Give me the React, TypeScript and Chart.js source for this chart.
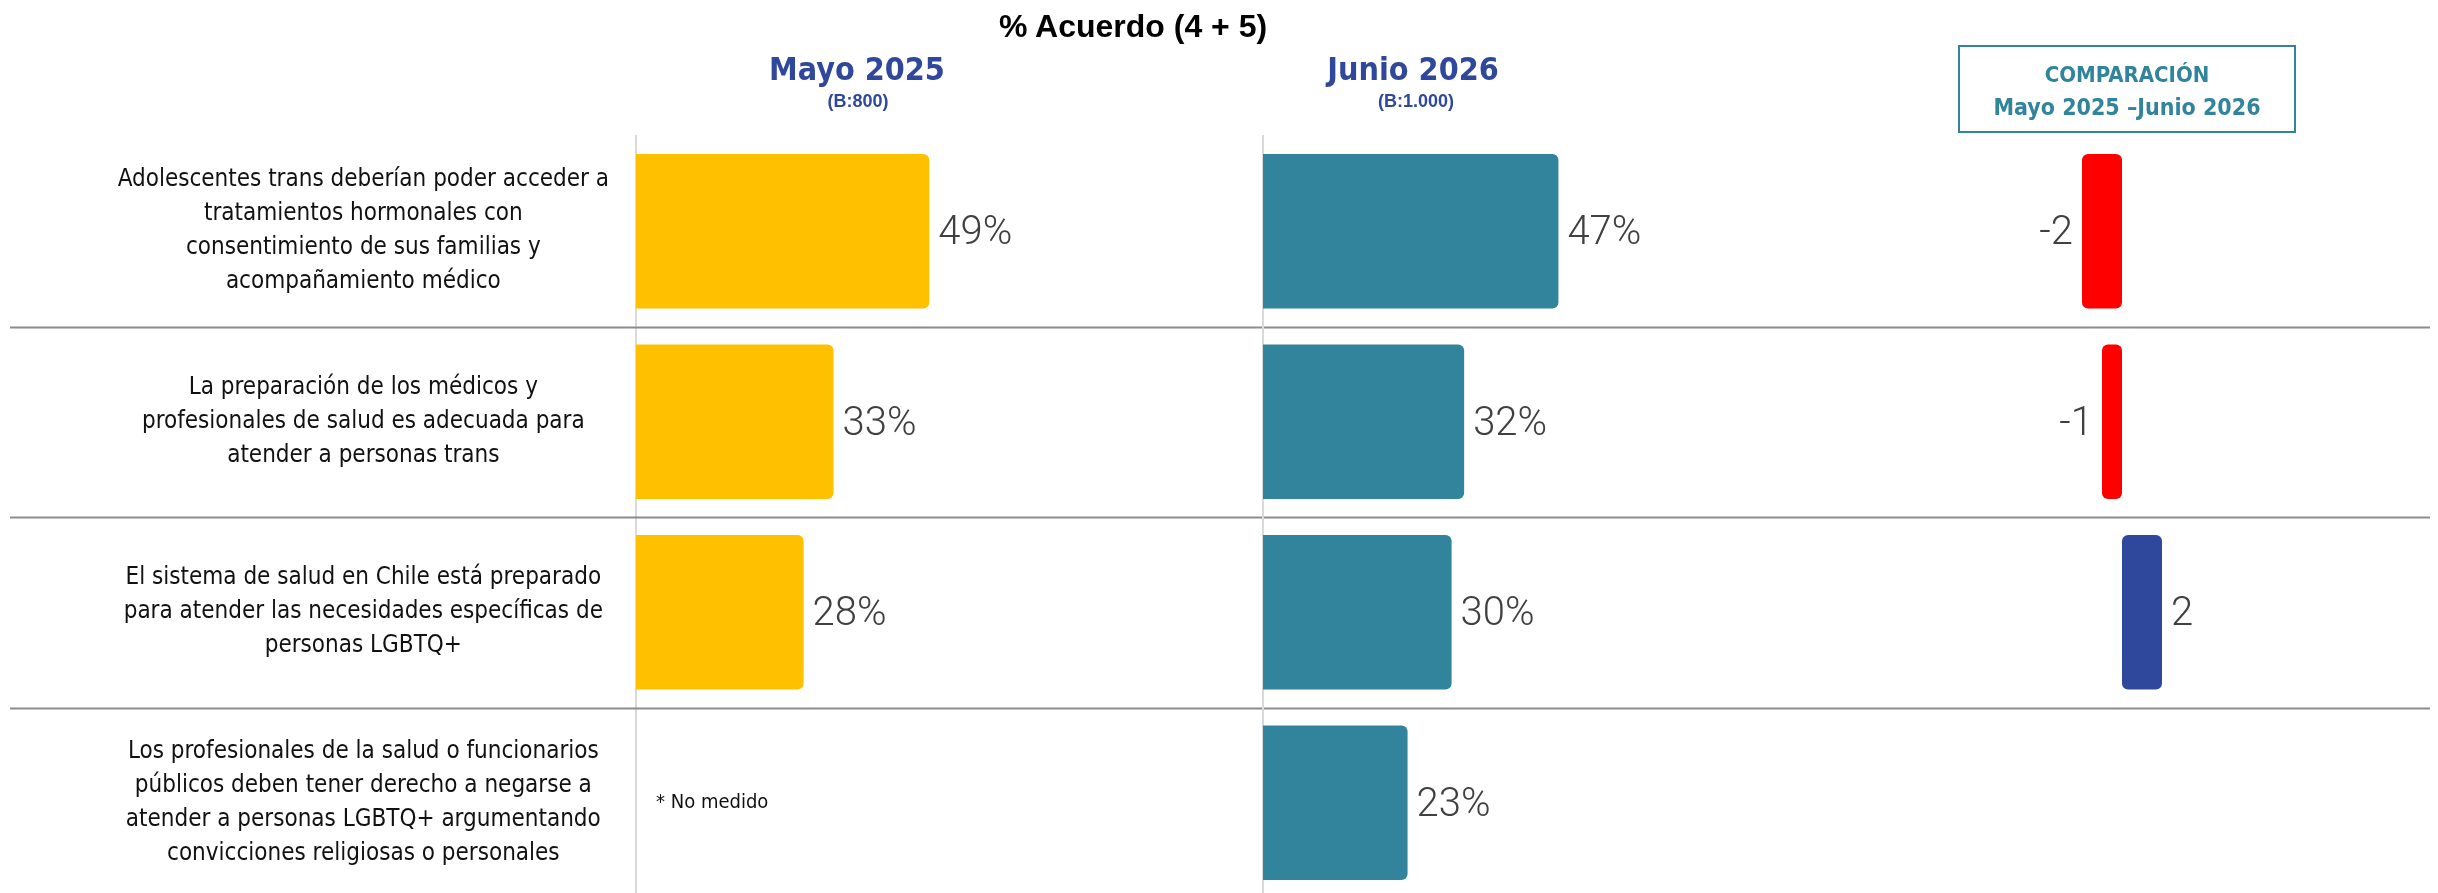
import React, { useEffect, useRef } from "react";
import { Chart, registerables } from "chart.js";

Chart.register(...registerables);

// ---------- data ----------
const categories: string[][] = [
  ["Adolescentes trans deberían poder acceder a", "tratamientos hormonales con", "consentimiento de sus familias y", "acompañamiento médico"],
  ["La preparación de los médicos y", "profesionales de salud es adecuada para", "atender a personas trans"],
  ["El sistema de salud en Chile está preparado", "para atender las necesidades específicas de", "personas LGBTQ+"],
  ["Los profesionales de la salud o funcionarios", "públicos deben tener derecho a negarse a", "atender a personas LGBTQ+ argumentando", "convicciones religiosas o personales"],
];
const mayo2025: (number | null)[] = [49, 33, 28, null];
const junio2026: (number | null)[] = [47, 32, 30, 23];
const comparacion: (number | null)[] = [-2, -1, 2, null];

const chartTitle = "% Acuerdo (4 + 5)";
const periodA = "Mayo 2025";
const baseA = "(B:800)";
const periodB = "Junio 2026";
const baseB = "(B:1.000)";
const compareTitle = "COMPARACIÓN";
const compareSub = "Mayo 2025 –Junio 2026";
const missingText = "* No medido";

// ---------- style ----------
const W = 2438;
const H = 900;
const NARROW = "'DejaVu Sans Condensed', 'Liberation Sans Narrow', sans-serif";
const SANS = "'Liberation Sans', Arial, sans-serif";
const YELLOW = "#FFC000";
const TEAL = "#31849B";
const BLUE = "#2F489B";
const RED = "#FF0000";
const VALUE_FONT = `300 40px Roboto, ${NARROW}`;
const VALUE_COLOR = "#404040";

const valueLabels = {
  id: "valueLabels",
  afterDatasetsDraw(chart: any, _args: any, o: any) {
    if (!o || !o.enabled) return;
    const ctx = chart.ctx;
    const meta = chart.getDatasetMeta(0);
    const data = chart.data.datasets[0].data;
    const ys = chart.scales.y;
    const xs = chart.scales.x;
    ctx.save();
    ctx.textBaseline = "middle";
    meta.data.forEach((el: any, i: number) => {
      const v = data[i];
      const y = ys.getPixelForValue(i);
      if (v == null) {
        if (o.missing) {
          ctx.font = o.missingFont;
          ctx.fillStyle = o.missingColor;
          ctx.textAlign = "left";
          ctx.fillText(o.missing, xs.getPixelForValue(0) + o.missingOffset, y);
        }
        return;
      }
      const text = `${v}${o.suffix || ""}`;
      ctx.font = o.font;
      ctx.fillStyle = o.color;
      const p = el.getProps(["x"], true);
      const ty = y + o.dy;
      if (v >= 0) {
        ctx.textAlign = "left";
        ctx.fillText(text, p.x + o.offset, ty);
      } else {
        ctx.textAlign = "right";
        ctx.fillText(text, p.x - o.offset, ty);
      }
    });
    ctx.restore();
  },
};

const rowSeparators = {
  id: "rowSeparators",
  afterDraw(chart: any, _args: any, o: any) {
    if (!o || !o.enabled) return;
    const ctx = chart.ctx;
    const ys = chart.scales.y;
    const n = chart.data.labels.length;
    ctx.save();
    ctx.strokeStyle = o.color;
    ctx.lineWidth = o.width;
    for (let i = 1; i < n; i++) {
      const p = Math.round((ys.getPixelForTick(i - 1) + ys.getPixelForTick(i)) / 2) + 0.5;
      ctx.beginPath();
      ctx.moveTo(o.from, p);
      ctx.lineTo(chart.width - o.toInset, p);
      ctx.stroke();
    }
    ctx.restore();
  },
};

function makeConfig(opts: {
  data: (number | null)[];
  colors: string | string[];
  padLeft: number;
  padRight: number;
  min: number;
  max: number;
  showLabels: boolean;
  axisWidth: number;
  showBorder: boolean;
  allRound: boolean;
  suffix: string;
  missing?: string;
  separators?: boolean;
}): any {
  return {
    type: "bar",
    data: {
      labels: categories,
      datasets: [
        {
          data: opts.data,
          backgroundColor: opts.colors,
          borderWidth: 0,
          borderRadius: 6,
          borderSkipped: opts.allRound ? false : "start",
          categoryPercentage: 1,
          barPercentage: 0.81,
        },
      ],
    },
    options: {
      indexAxis: "y",
      responsive: false,
      animation: false,
      devicePixelRatio: 1,
      layout: { padding: { left: opts.padLeft, right: opts.padRight, top: 136, bottom: 2 } },
      plugins: {
        legend: { display: false },
        tooltip: { enabled: false },
        title: { display: false },
        valueLabels: {
          enabled: true,
          font: VALUE_FONT,
          color: VALUE_COLOR,
          offset: 9,
          dy: 3,
          suffix: opts.suffix,
          missing: opts.missing,
          missingFont: `20px ${NARROW}`,
          missingColor: "#111111",
          missingOffset: 20,
        },
        rowSeparators: {
          enabled: !!opts.separators,
          color: "#8C8C8C",
          width: 2,
          from: 10,
          toInset: 8,
        },
      },
      scales: {
        x: { display: false, min: opts.min, max: opts.max },
        y: {
          display: true,
          position: "left",
          offset: true,
          grid: { display: false, drawTicks: false },
          border: { display: opts.showBorder, color: "#D9D9D9", width: 2 },
          ticks: {
            display: opts.showLabels,
            crossAlign: "center",
            padding: 27,
            color: "#111111",
            font: { family: NARROW, size: 24, lineHeight: 1.417 },
            autoSkip: false,
          },
          afterFit: (scale: any) => {
            scale.width = opts.axisWidth;
            scale.paddingTop = 0;
            scale.paddingBottom = 0;
          },
        },
      },
    },
    plugins: [valueLabels, rowSeparators],
  };
}

function ChartCanvas({ config }: { config: any }) {
  const ref = useRef<HTMLCanvasElement | null>(null);
  useEffect(() => {
    if (!ref.current) return;
    const chart = new Chart(ref.current, config);
    return () => chart.destroy();
  }, [config]);
  return (
    <canvas
      ref={ref}
      width={W}
      height={H}
      style={{ position: "absolute", left: 0, top: 0, width: W, height: H }}
    />
  );
}

function Text({
  cx,
  baseline,
  size,
  family,
  color,
  bold,
  children,
}: {
  cx: number;
  baseline: number;
  size: number;
  family: string;
  color: string;
  bold?: boolean;
  children: React.ReactNode;
}) {
  const top = baseline - 0.8465 * size;
  return (
    <div
      style={{
        position: "absolute",
        left: cx - 300,
        width: 600,
        top,
        textAlign: "center",
        fontFamily: family,
        fontSize: size,
        lineHeight: `${size}px`,
        fontWeight: bold ? 700 : 400,
        color,
        whiteSpace: "nowrap",
      }}
    >
      {children}
    </div>
  );
}

const configA = makeConfig({
  data: mayo2025,
  colors: YELLOW,
  padLeft: 0,
  padRight: W - 1055,
  min: 0,
  max: 70,
  showLabels: true,
  axisWidth: 636,
  showBorder: true,
  allRound: false,
  suffix: "%",
  missing: missingText,
  separators: true,
});

const configB = makeConfig({
  data: junio2026,
  colors: TEAL,
  padLeft: 1263,
  padRight: W - 1703,
  min: 0,
  max: 70,
  showLabels: false,
  axisWidth: 0,
  showBorder: true,
  allRound: false,
  suffix: "%",
});

const configC = makeConfig({
  data: comparacion,
  colors: comparacion.map((v) => (v != null && v < 0 ? RED : BLUE)),
  padLeft: 2002,
  padRight: W - 2242,
  min: -6,
  max: 6,
  showLabels: false,
  axisWidth: 0,
  showBorder: false,
  allRound: true,
  suffix: "",
});

export default function App() {
  return (
    <div
      style={{
        position: "fixed",
        left: 0,
        top: 0,
        width: W,
        height: 893,
        overflow: "hidden",
        background: "#ffffff",
      }}
    >
      <ChartCanvas config={configA} />
      <ChartCanvas config={configB} />
      <ChartCanvas config={configC} />

      <Text cx={1133} baseline={37} size={32} family={SANS} color="#000000" bold>
        {chartTitle}
      </Text>
      <Text cx={857} baseline={80} size={32} family={NARROW} color={BLUE} bold>
        {periodA}
      </Text>
      <Text cx={858} baseline={107} size={18} family={SANS} color={BLUE} bold>
        {baseA}
      </Text>
      <Text cx={1413} baseline={80} size={32} family={NARROW} color={BLUE} bold>
        {periodB}
      </Text>
      <Text cx={1416} baseline={107} size={18} family={SANS} color={BLUE} bold>
        {baseB}
      </Text>

      <div
        style={{
          position: "absolute",
          left: 1958,
          top: 45,
          width: 338,
          height: 88,
          boxSizing: "border-box",
          border: `2px solid ${TEAL}`,
        }}
      />
      <Text cx={2127} baseline={83} size={22} family={NARROW} color={TEAL} bold>
        {compareTitle}
      </Text>
      <Text cx={2127} baseline={115} size={23} family={NARROW} color={TEAL} bold>
        {compareSub}
      </Text>
    </div>
  );
}
